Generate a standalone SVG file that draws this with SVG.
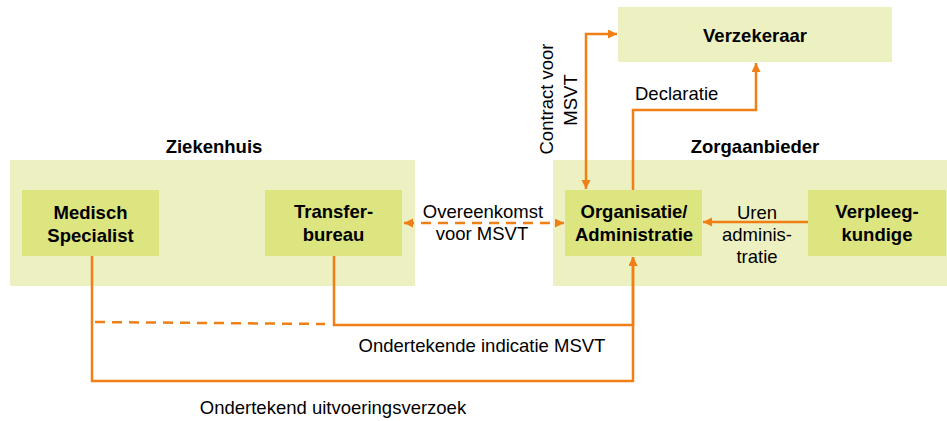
<svg xmlns="http://www.w3.org/2000/svg" width="947" height="421" viewBox="0 0 947 421">
<style>
.outer{fill:#EDF1C1}
.inner{fill:#DCE57F}
.t{font-family:"Liberation Sans",Arial,sans-serif;font-size:18.5px;fill:#000}
.b{font-weight:bold}
.m{text-anchor:middle}
.c{fill:none;stroke:#F07F16;stroke-width:2.5}
.d{stroke-dasharray:10 7}
</style>
<defs>
<marker id="ah" markerUnits="userSpaceOnUse" markerWidth="10" markerHeight="10" refX="9" refY="4.5" orient="auto-start-reverse">
<path d="M0,0 L9,4.5 L0,9 z" fill="#F07F16"/>
</marker>
</defs>
<g id="ziekenhuis">
<rect class="outer" x="10" y="160" width="405" height="126"/>
<text class="t b m" x="214" y="153">Ziekenhuis</text>
</g>
<g id="zorgaanbieder">
<rect class="outer" x="553" y="160" width="394" height="126"/>
<text class="t b m" x="755" y="153">Zorgaanbieder</text>
</g>
<g id="verzekeraar">
<rect class="outer" x="618" y="7" width="274" height="55"/>
<text class="t b m" x="755" y="42">Verzekeraar</text>
</g>
<g id="medisch">
<rect class="inner" x="22" y="190" width="137" height="66"/>
<text class="t b m" x="90.5" y="219">Medisch</text>
<text class="t b m" x="90.5" y="242">Specialist</text>
</g>
<g id="transfer">
<rect class="inner" x="265" y="190" width="137" height="66"/>
<text class="t b m" x="333.5" y="218">Transfer-</text>
<text class="t b m" x="333.5" y="241">bureau</text>
</g>
<g id="organisatie">
<rect class="inner" x="565" y="190" width="137" height="66"/>
<text class="t b m" x="634" y="218">Organisatie/</text>
<text class="t b m" x="634" y="241">Administratie</text>
</g>
<g id="verpleeg">
<rect class="inner" x="808" y="190" width="138" height="66"/>
<text class="t b m" x="877" y="218">Verpleeg-</text>
<text class="t b m" x="877" y="241">kundige</text>
</g>
<g id="connectors">
<path class="c" d="M617 34 H586 V189" marker-start="url(#ah)" marker-end="url(#ah)"/>
<path class="c" d="M633 190 V110 H756 V63" marker-end="url(#ah)"/>
<path class="c d" d="M404 223 H564" marker-start="url(#ah)" marker-end="url(#ah)"/>
<path class="c" d="M808 222 H703" marker-end="url(#ah)"/>
<path class="c" d="M92 256 V381 H633 V257" marker-end="url(#ah)"/>
<path class="c" d="M334 256 V325 H633 V257" marker-end="url(#ah)"/>
<path class="c d" d="M95 322 L325 324"/>
<text class="t m" transform="translate(553,99) rotate(-90)">Contract voor</text>
<text class="t m" transform="translate(577,100) rotate(-90)">MSVT</text>
<text class="t" x="635" y="100">Declaratie</text>
<text class="t m" x="483" y="218">Overeenkomst</text>
<text class="t m" x="482" y="240">voor MSVT</text>
<text class="t m" x="757" y="219">Uren</text>
<text class="t m" x="757" y="241">adminis-</text>
<text class="t m" x="757" y="263">tratie</text>
<text class="t m" x="482" y="352">Ondertekende indicatie MSVT</text>
<text class="t m" x="333" y="414">Ondertekend uitvoeringsverzoek</text>
</g>
</svg>
